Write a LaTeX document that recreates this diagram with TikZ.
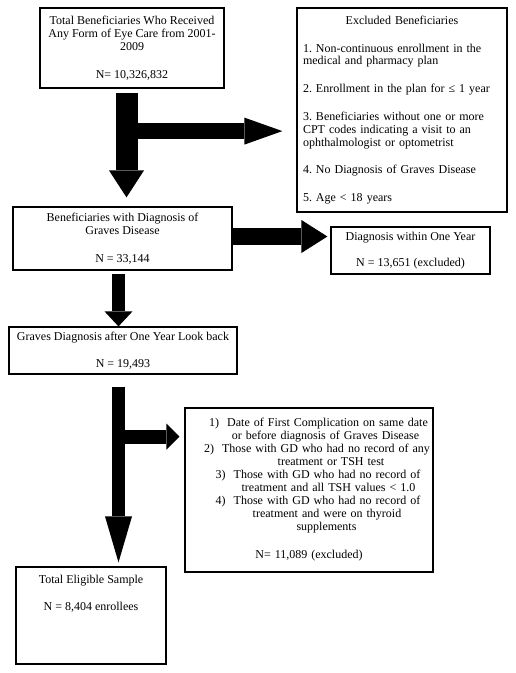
\documentclass[tikz,border=0pt]{standalone}
\usepackage{fontspec}
\setmainfont{Liberation Serif}
\frenchspacing
\usetikzlibrary{arrows.meta,calc}
\newcommand{\shiftline}[2]{\hspace*{#1}\makebox[0pt][c]{#2}}
\begin{document}
\begin{tikzpicture}[x=1pt,y=-1pt,
  box/.style={draw, line width=1.2pt, inner sep=0pt, align=center,
    font=\fontsize{12}{13.2}\selectfont},
  plain/.style={inner sep=0pt, align=center, font=\fontsize{12}{13.2}\selectfont},
  blk/.style={draw=black, line width=#1, line cap=butt}]
\useasboundingbox (0,0) rectangle (516,673);

% boxes
\node[box, minimum width=184pt, minimum height=80pt] (b1) at (132,48)
  {Total Beneficiaries Who Received\\Any Form of Eye Care from 2001-\\2009\\[14pt]N= 10,326,832};

\node[box, minimum width=210pt, minimum height=204pt, text width=198pt, align=left,
  font=\fontsize{12}{12.8}\selectfont] (ex) at (402,110)
  {\makebox[198pt][c]{Excluded Beneficiaries}\\[15pt]
   1. Non-continuous enrollment in the\\medical and pharmacy plan\\[15pt]
   2. Enrollment in the plan for ≤ 1 year\\[15pt]
   3. Beneficiaries without one or more\\CPT codes indicating a visit to an\\ophthalmologist or optometrist\\[15pt]
   4. No Diagnosis of Graves Disease\\[15pt]
   5. Age < 18 years};

\node[box, minimum width=219pt, minimum height=63pt] (b2) at (122.5,238.5)
  {Beneficiaries with Diagnosis of\\Graves Disease\\[14pt]N = 33,144};

\node[box, minimum width=159pt, minimum height=47pt] (b3) at (410.5,250.5)
  {Diagnosis within One Year\\[13pt]N = 13,651 (excluded)};

\node[box, minimum width=228pt, minimum height=47pt] (b4) at (123,350.5)
  {Graves Diagnosis after One Year Look back\\[14pt]N = 19,493};

\node[box, minimum width=248pt, minimum height=164pt, text width=240pt,
  font=\fontsize{12}{13}\selectfont] (b5) at (309,490)
  {\shiftline{19pt}{1)\hspace{8pt}Date of First Complication on same date}\\
   \shiftline{33pt}{or before diagnosis of Graves Disease}\\
   \shiftline{16pt}{2)\hspace{8pt}Those with GD who had no record of any}\\
   \shiftline{44pt}{treatment or TSH test}\\
   \shiftline{18pt}{3)\hspace{8pt}Those with GD who had no record of}\\
   \shiftline{39pt}{treatment and all TSH values < 1.0}\\
   \shiftline{18pt}{4)\hspace{8pt}Those with GD who had no record of}\\
   \shiftline{36pt}{treatment and were on thyroid}\\
   \shiftline{35pt}{supplements}\\[15pt]
   N= 11,089 (excluded)};

\node[box, minimum width=150pt, minimum height=97pt] (b6) at (91,615.5) {};
\node[plain, anchor=north] (b6t) at ($(b6.north)+(0,8.5)$)
  {Total Eligible Sample\\[14pt]N = 8,404 enrollees};

% arrow coordinates
\coordinate (a1s) at ($(b1.south)+(-5.5,4)$);
\coordinate (a1e) at ($(b2.north)+(4,-9)$);
\coordinate (a1b) at ($(a1s)+(0,38.5)$);
\coordinate (a1x) at ($(ex.west)+(-14,0)$);
\coordinate (a2s) at ($(b2.east)+(0,-2)$);
\coordinate (a2e) at ($(b3.west)+(-3,-14)$);
\coordinate (a3s) at ($(b2.south)+(-4,3)$);
\coordinate (a3e) at ($(b4.north)+(-4,0)$);
\coordinate (a4s) at ($(b4.south)+(-4.5,12)$);
\coordinate (a4e) at ($(b6.north)+(27.5,-4)$);
\coordinate (a4b) at ($(a4s)+(0,50)$);
\coordinate (a4x) at ($(b5.west)+(-5,0)$);

% block arrows
\draw[blk=22pt, -{Triangle[length=27pt,width=35pt,line width=0pt]}] (a1s) -- (a1e);
\draw[blk=16pt, -{Triangle[length=38pt,width=27pt,line width=0pt]}] (a1b) -- (a1b -| a1x);
\draw[blk=17pt, -{Triangle[length=26pt,width=33pt,line width=0pt]}] (a2s) -- (a2s -| a2e);
\draw[blk=13pt, -{Triangle[length=15pt,width=28pt,line width=0pt]}] (a3s) -- (a3s |- a3e);
\draw[blk=13pt, -{Triangle[length=46pt,width=27pt,line width=0pt]}] (a4s) -- (a4s |- a4e);
\draw[blk=14pt, -{Triangle[length=13pt,width=26pt,line width=0pt]}] (a4b) -- (a4b -| a4x);
\end{tikzpicture}
\end{document}
